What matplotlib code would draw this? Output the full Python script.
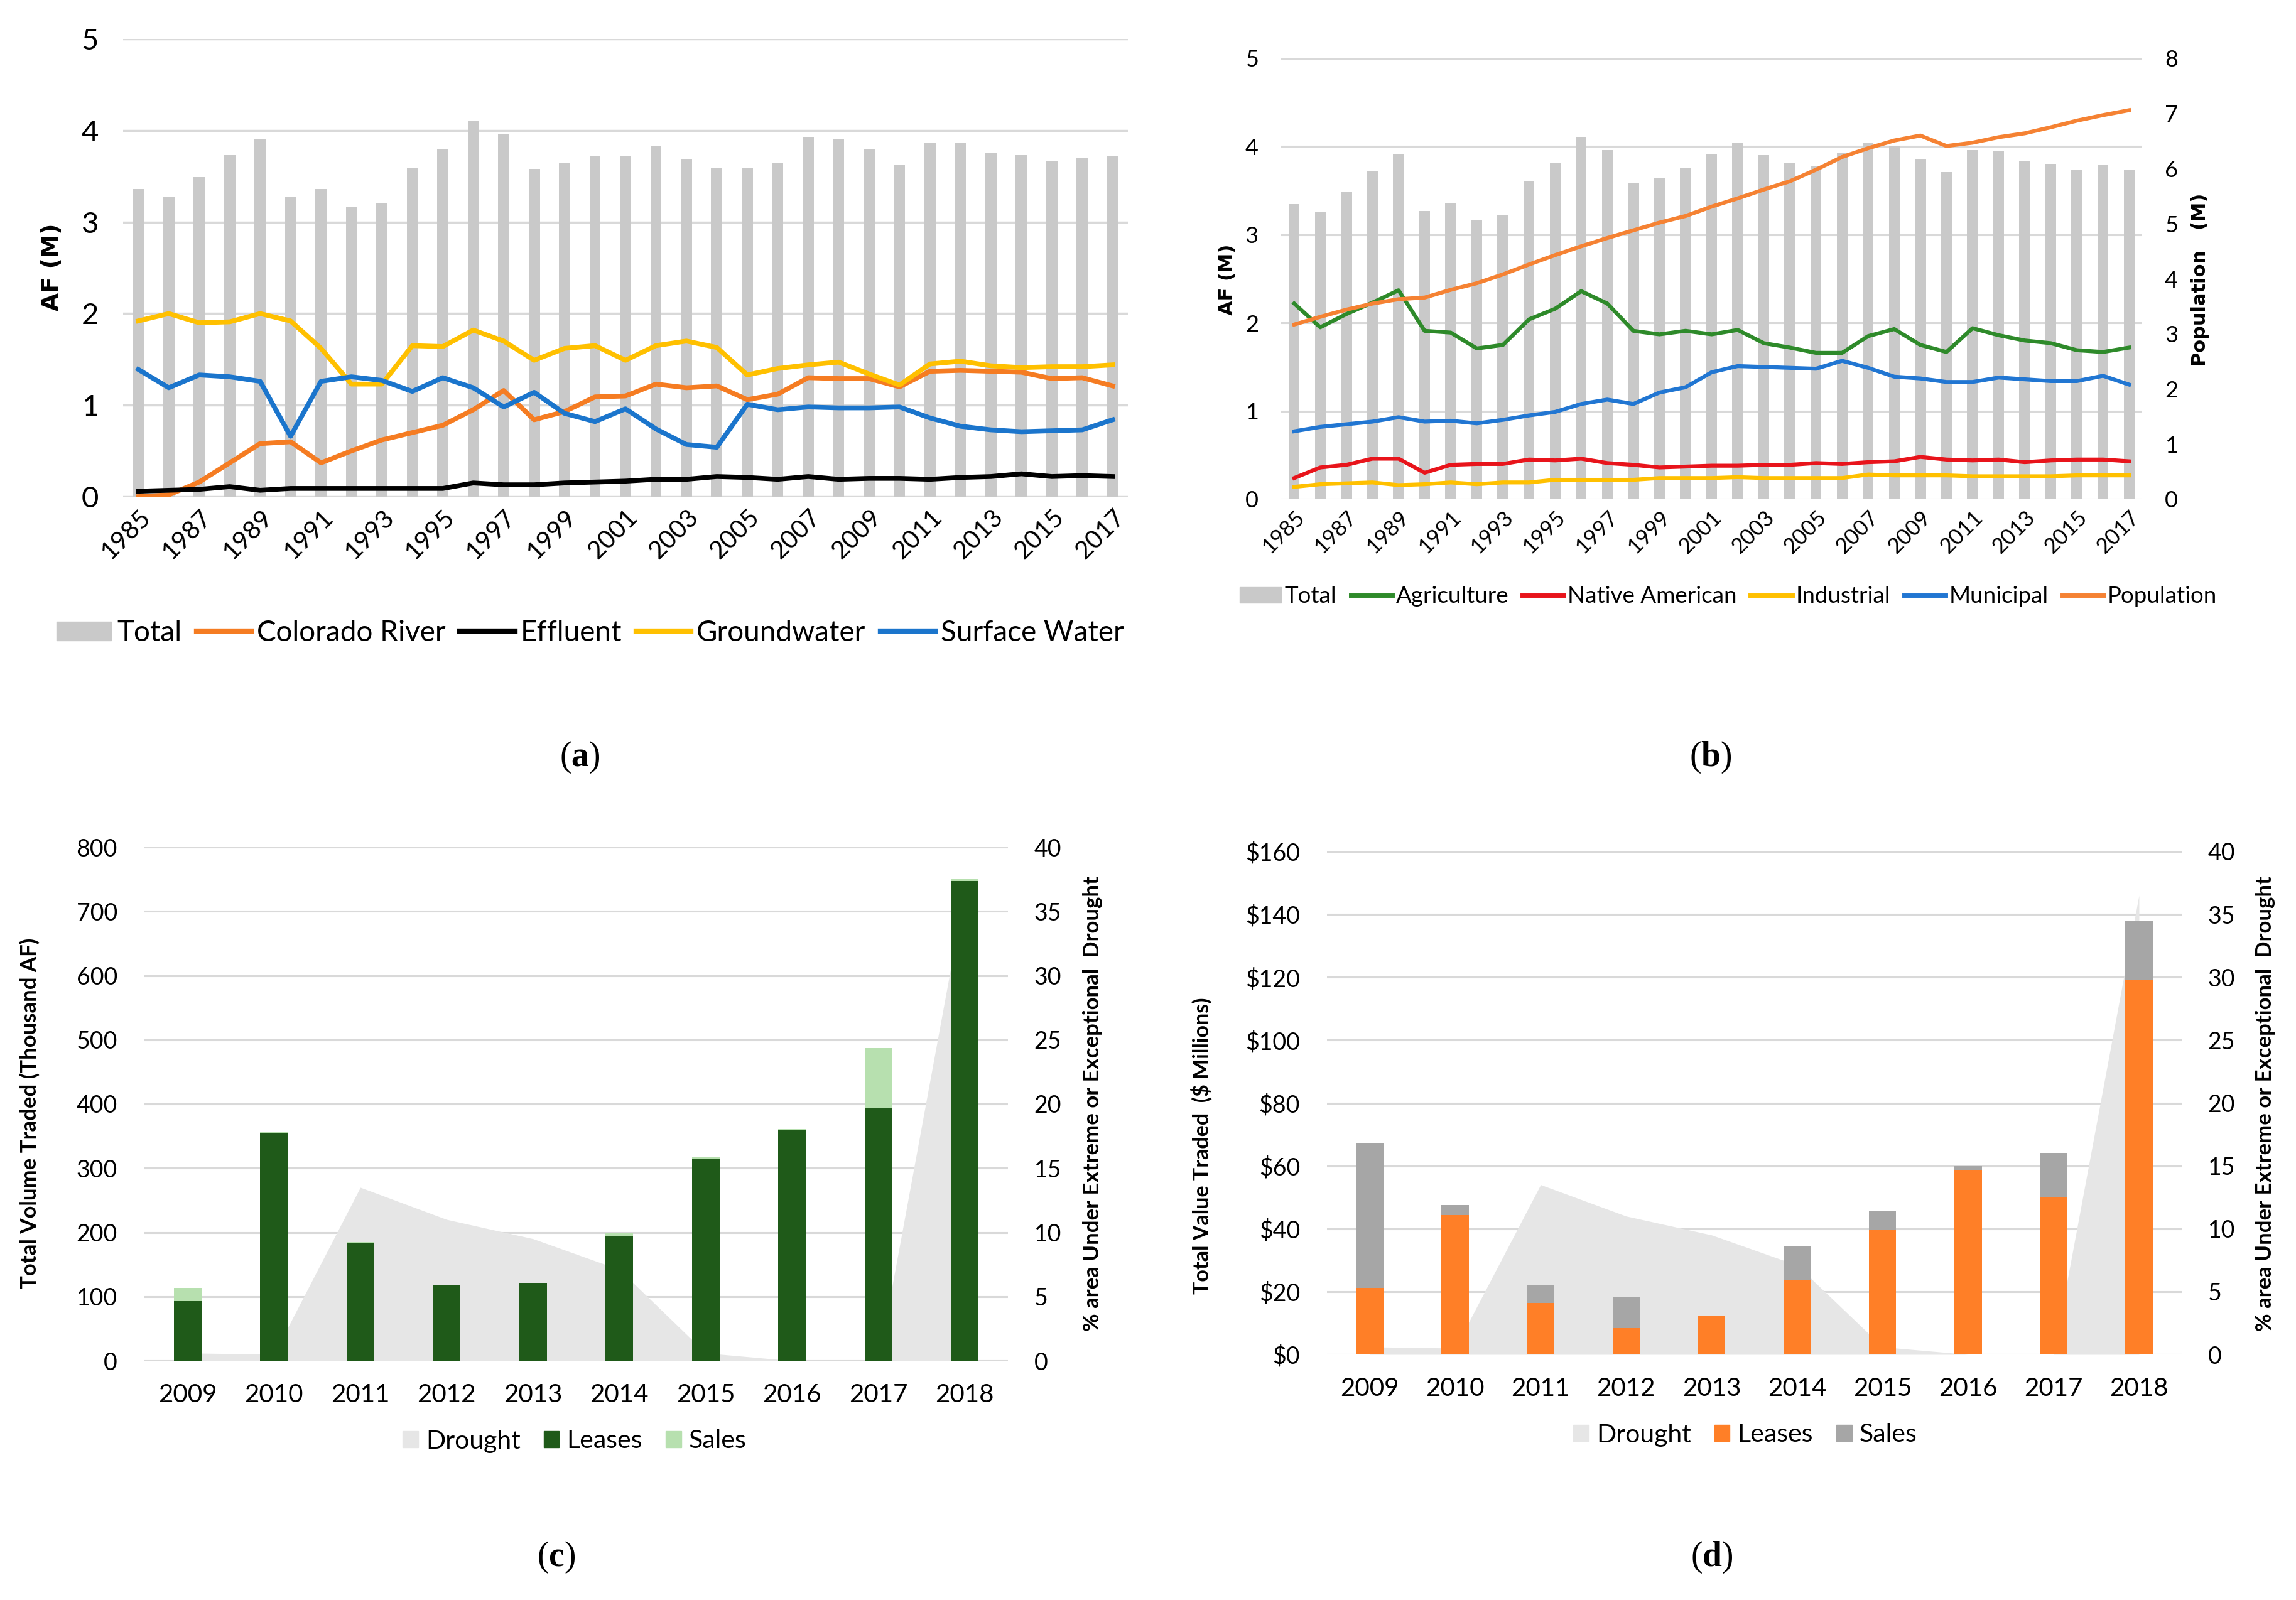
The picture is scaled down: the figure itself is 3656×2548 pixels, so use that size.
import matplotlib
matplotlib.use('Agg')
import matplotlib.pyplot as plt
from matplotlib.patches import Patch
from matplotlib.lines import Line2D
import numpy as np

# ---------------- data ----------------
years_ab = [1985, 1986, 1987, 1988, 1989, 1990, 1991, 1992, 1993, 1994, 1995,
            1996, 1997, 1998, 1999, 2000, 2001, 2002, 2003, 2004, 2005, 2006,
            2007, 2008, 2009, 2010, 2011, 2012, 2013, 2014, 2015, 2016, 2017]

# panel (a) – supply by source (AF, millions)
total_a = [3.36, 3.27, 3.49, 3.73, 3.90, 3.27, 3.36, 3.16, 3.21, 3.59, 3.80,
           4.11, 3.96, 3.58, 3.64, 3.72, 3.72, 3.83, 3.68, 3.59, 3.59, 3.65,
           3.93, 3.91, 3.79, 3.62, 3.87, 3.87, 3.76, 3.73, 3.67, 3.70, 3.72]
colorado = [0.00, 0.02, 0.16, 0.37, 0.58, 0.60, 0.37, 0.50, 0.62, 0.70, 0.78,
            0.95, 1.16, 0.84, 0.93, 1.09, 1.10, 1.23, 1.19, 1.21, 1.06, 1.12,
            1.30, 1.29, 1.29, 1.20, 1.37, 1.38, 1.37, 1.36, 1.29, 1.30, 1.21]
effluent = [0.06, 0.07, 0.08, 0.11, 0.07, 0.09, 0.09, 0.09, 0.09, 0.09, 0.09,
            0.15, 0.13, 0.13, 0.15, 0.16, 0.17, 0.19, 0.19, 0.22, 0.21, 0.19,
            0.22, 0.19, 0.20, 0.20, 0.19, 0.21, 0.22, 0.25, 0.22, 0.23, 0.22]
groundwater = [1.92, 2.00, 1.90, 1.91, 2.00, 1.92, 1.62, 1.23, 1.23, 1.65, 1.64,
               1.82, 1.70, 1.49, 1.62, 1.65, 1.49, 1.65, 1.70, 1.63, 1.33, 1.40,
               1.44, 1.47, 1.34, 1.22, 1.45, 1.48, 1.43, 1.41, 1.42, 1.42, 1.44]
surface = [1.39, 1.19, 1.33, 1.31, 1.26, 0.66, 1.26, 1.31, 1.27, 1.15, 1.30,
           1.19, 0.98, 1.14, 0.91, 0.82, 0.96, 0.74, 0.57, 0.54, 1.01, 0.95,
           0.98, 0.97, 0.97, 0.98, 0.86, 0.77, 0.73, 0.71, 0.72, 0.73, 0.84]

# panel (b) – demand by sector (AF, millions) and population (millions)
total_b = [3.35, 3.26, 3.49, 3.72, 3.91, 3.27, 3.36, 3.16, 3.22, 3.61, 3.82,
           4.11, 3.96, 3.58, 3.65, 3.76, 3.91, 4.04, 3.90, 3.82, 3.78, 3.93,
           4.04, 4.00, 3.85, 3.71, 3.96, 3.95, 3.84, 3.80, 3.74, 3.79, 3.73]
agriculture = [2.22, 1.95, 2.10, 2.23, 2.37, 1.91, 1.89, 1.71, 1.75, 2.04, 2.16,
               2.36, 2.22, 1.91, 1.87, 1.91, 1.87, 1.92, 1.77, 1.72, 1.66, 1.66,
               1.85, 1.93, 1.75, 1.67, 1.94, 1.86, 1.80, 1.77, 1.69, 1.67, 1.72]
native = [0.24, 0.36, 0.39, 0.46, 0.46, 0.30, 0.39, 0.40, 0.40, 0.45, 0.44,
          0.46, 0.41, 0.39, 0.36, 0.37, 0.38, 0.38, 0.39, 0.39, 0.41, 0.40,
          0.42, 0.43, 0.48, 0.45, 0.44, 0.45, 0.42, 0.44, 0.45, 0.45, 0.43]
industrial = [0.14, 0.17, 0.18, 0.19, 0.16, 0.17, 0.19, 0.17, 0.19, 0.19, 0.22,
              0.22, 0.22, 0.22, 0.24, 0.24, 0.24, 0.25, 0.24, 0.24, 0.24, 0.24,
              0.28, 0.27, 0.27, 0.27, 0.26, 0.26, 0.26, 0.26, 0.27, 0.27, 0.27]
municipal = [0.77, 0.82, 0.85, 0.88, 0.93, 0.88, 0.89, 0.86, 0.90, 0.95, 0.99,
             1.08, 1.13, 1.08, 1.21, 1.27, 1.44, 1.51, 1.50, 1.49, 1.48, 1.57,
             1.49, 1.39, 1.37, 1.33, 1.33, 1.38, 1.36, 1.34, 1.34, 1.40, 1.30]
population = [3.17, 3.31, 3.44, 3.55, 3.63, 3.66, 3.80, 3.92, 4.08, 4.26, 4.43,
              4.59, 4.74, 4.88, 5.02, 5.14, 5.31, 5.46, 5.62, 5.77, 5.98, 6.21,
              6.37, 6.51, 6.60, 6.41, 6.47, 6.57, 6.64, 6.75, 6.87, 6.97, 7.06]

# panels (c) and (d) – water market
years_cd = [2009, 2010, 2011, 2012, 2013, 2014, 2015, 2016, 2017, 2018]
drought = [0.6, 0.5, 13.5, 11.0, 9.5, 7.1, 0.6, 0.0, 0.0, 36.5]   # % area
vol_leases = [93, 355, 183, 117, 121, 194, 315, 360, 394, 747]     # thousand AF
vol_sales = [20, 2, 2, 1, 0, 6, 2, 1, 93, 3]
val_leases = [21.2, 44.3, 16.4, 8.3, 12.1, 23.6, 39.7, 58.5, 50.2, 119.0]  # $M
val_sales = [46.1, 3.3, 5.7, 9.9, 0.0, 10.9, 5.8, 1.5, 13.9, 19.0]

yticks_a = [0, 1, 2, 3, 4, 5]
yticks_pop = [0, 1, 2, 3, 4, 5, 6, 7, 8]
yticks_vol = [0, 100, 200, 300, 400, 500, 600, 700, 800]
yticks_val = [0, 20, 40, 60, 80, 100, 120, 140, 160]
yticks_dr = [0, 5, 10, 15, 20, 25, 30, 35, 40]

# ---------------- style ----------------
W, H = 3656, 2548
plt.rcParams['font.family'] = ['Lato', 'DejaVu Sans']
plt.rcParams['mathtext.fontset'] = 'custom'
plt.rcParams['mathtext.rm'] = 'Liberation Serif'
plt.rcParams['mathtext.bf'] = 'Liberation Serif:bold'

GRID = '#d9d9d9'
BARGREY = '#c9c9c9'

fig = plt.figure(figsize=(W / 100, H / 100), dpi=100)


def axes_px(l, t, r, b):
    return fig.add_axes([l / W, 1 - b / H, (r - l) / W, (b - t) / H])


def clean(ax):
    for s in ax.spines.values():
        s.set_visible(False)
    ax.tick_params(length=0)


def ylabel_px(x, y, s, size, fam, weight='bold'):
    fig.text(x / W, 1 - y / H, s, rotation=90, ha='center', va='center',
             fontsize=size, family=fam, fontweight=weight)


def panel_label(x, y, letter):
    fig.text(x / W, 1 - y / H, '($\\mathbf{' + letter + '}$)', ha='center',
             va='center', fontsize=40, family='Liberation Serif')


# ---------------- panel (a) ----------------
ax = axes_px(196, 62, 1796, 791)
xa = np.arange(len(years_ab))
ax.bar(xa, total_a, width=0.37, color=BARGREY, zorder=2)
ax.plot(xa, colorado, color='#F57C22', lw=5.5, zorder=3, solid_joinstyle='round')
ax.plot(xa, effluent, color='#000000', lw=5.5, zorder=3, solid_joinstyle='round')
ax.plot(xa, groundwater, color='#FFC000', lw=5.5, zorder=3, solid_joinstyle='round')
ax.plot(xa, surface, color='#1B75CC', lw=5.5, zorder=3, solid_joinstyle='round')
ax.set_xlim(-0.5, len(years_ab) - 0.5)
ax.set_ylim(0, 5)
ax.set_yticks(yticks_a)
ax.grid(axis='y', color=GRID, lw=2.5, zorder=0)
ax.set_axisbelow(True)
clean(ax)
ax.tick_params(axis='y', labelsize=34, pad=28)
ax.set_xticks(xa[::2])
ax.set_xticklabels(years_ab[::2], rotation=45, ha='right', rotation_mode='anchor',
                   fontsize=29)
ax.tick_params(axis='x', pad=10)
ylabel_px(83, 425, 'AF (M)', 27, 'DejaVu Sans')
handles = [Patch(color=BARGREY, label='Total'),
           Line2D([], [], color='#F57C22', lw=6, label='Colorado River'),
           Line2D([], [], color='#000000', lw=6, label='Effluent'),
           Line2D([], [], color='#FFC000', lw=6, label='Groundwater'),
           Line2D([], [], color='#1B75CC', lw=6, label='Surface Water')]
fig.legend(handles=handles, loc='center', bbox_to_anchor=(940 / W, 1 - 1008 / H),
           ncol=5, frameon=False, fontsize=33, handlelength=1.9, handleheight=0.65,
           handletextpad=0.2, columnspacing=0.5)
panel_label(923, 1206, 'a')

# ---------------- panel (b) ----------------
ax = axes_px(2040, 93, 3411, 795)
xb = np.arange(len(years_ab))
ax.bar(xb, total_b, width=0.42, color=BARGREY, zorder=2)
ax.plot(xb, agriculture, color='#2E8A2A', lw=4.5, zorder=3)
ax.plot(xb, native, color='#E8141B', lw=4.5, zorder=3)
ax.plot(xb, industrial, color='#FFC000', lw=4.5, zorder=3)
ax.plot(xb, municipal, color='#2176D2', lw=4.5, zorder=3)
ax.set_xlim(-0.5, len(years_ab) - 0.5)
ax.set_ylim(0, 5)
ax.set_yticks(yticks_a)
ax.grid(axis='y', color=GRID, lw=2.2, zorder=0)
ax.set_axisbelow(True)
clean(ax)
ax.tick_params(axis='y', labelsize=26, pad=26)
ax.set_xticks(xb[::2])
ax.set_xticklabels(years_ab[::2], rotation=45, ha='right', rotation_mode='anchor',
                   fontsize=25)
ax.tick_params(axis='x', pad=9)
ax2 = ax.twinx()
ax2.plot(xb, population, color='#F58233', lw=4.5, zorder=3)
ax2.set_ylim(0, 8)
ax2.set_yticks(yticks_pop)
clean(ax2)
ax2.tick_params(axis='y', labelsize=26, pad=26)
ylabel_px(1954, 445, 'AF (M)', 22, 'DejaVu Sans')
ylabel_px(3503, 445, 'Population   (M)', 22, 'DejaVu Sans')
handles = [Patch(color=BARGREY, label='Total'),
           Line2D([], [], color='#2E8A2A', lw=5, label='Agriculture'),
           Line2D([], [], color='#E8141B', lw=5, label='Native American'),
           Line2D([], [], color='#FFC000', lw=5, label='Industrial'),
           Line2D([], [], color='#2176D2', lw=5, label='Municipal'),
           Line2D([], [], color='#F58233', lw=5, label='Population')]
fig.legend(handles=handles, loc='center', bbox_to_anchor=(2752 / W, 1 - 950 / H),
           ncol=6, frameon=False, fontsize=26.5, handlelength=1.8, handleheight=0.65,
           handletextpad=0.15, columnspacing=0.6)
panel_label(2724, 1206, 'b')


# ---------------- panels (c) and (d) ----------------
def market_panel(box, leases, sales, c_lease, c_sale, yticks, ylim, fmt,
                 lab_left, lab_left_pos, lab_right_pos, legend_pos, letter, let_pos,
                 left_size):
    ax = axes_px(*box)
    xc = np.arange(len(years_cd))
    axd = ax.twinx()
    ax.set_zorder(axd.get_zorder() + 1)
    ax.patch.set_visible(False)
    axd.fill_between(xc, drought, 0, color='#e6e6e6', lw=0, zorder=1)
    axd.set_ylim(0, 40)
    axd.set_yticks(yticks_dr)
    axd.grid(axis='y', color=GRID, lw=2.2, zorder=0)
    axd.set_axisbelow(True)
    clean(axd)
    axd.tick_params(axis='y', labelsize=27, pad=30)

    ax.bar(xc, leases, width=0.32, color=c_lease, zorder=2)
    ax.bar(xc, sales, width=0.32, bottom=leases, color=c_sale, zorder=2)
    ax.set_xlim(-0.5, len(years_cd) - 0.5)
    ax.set_ylim(*ylim)
    ax.set_yticks(yticks)
    ax.set_yticklabels([fmt.format(v) for v in yticks])
    clean(ax)
    ax.tick_params(axis='y', labelsize=27, pad=31)
    ax.set_xticks(xc)
    ax.set_xticklabels(years_cd, fontsize=29)
    ax.tick_params(axis='x', pad=26)
    axd.set_xlim(-0.5, len(years_cd) - 0.5)

    ylabel_px(lab_left_pos[0], lab_left_pos[1], lab_left, left_size, 'Lato')
    ylabel_px(lab_right_pos[0], lab_right_pos[1],
              '% area Under Extreme or Exceptional  Drought', 25, 'Lato')
    handles = [Patch(color='#e6e6e6', label='Drought'),
               Patch(color=c_lease, label='Leases'),
               Patch(color=c_sale, label='Sales')]
    fig.legend(handles=handles, loc='center',
               bbox_to_anchor=(legend_pos[0] / W, 1 - legend_pos[1] / H),
               ncol=3, frameon=False, fontsize=29.5, handlelength=0.6,
               handleheight=0.6, handletextpad=0.3, columnspacing=0.9)
    panel_label(let_pos[0], let_pos[1], letter)


market_panel((230, 1349, 1605, 2167), vol_leases, vol_sales, '#1F5A19', '#B7E0AF',
             yticks_vol, (0, 800), '{:d}', 'Total Volume Traded (Thousand AF)',
             (47, 1773), (1740, 1758), (915, 2295), 'c', (886, 2480), 25)
market_panel((2113, 1356, 3474, 2157), val_leases, val_sales, '#FF7F27', '#A6A6A6',
             yticks_val, (0, 160), '${:d}', 'Total Value Traded  ($ Millions)',
             (1913, 1825), (3607, 1758), (2779, 2285), 'd', (2726, 2480), 24.5)

fig.savefig('out.png', dpi=100, facecolor='white')
